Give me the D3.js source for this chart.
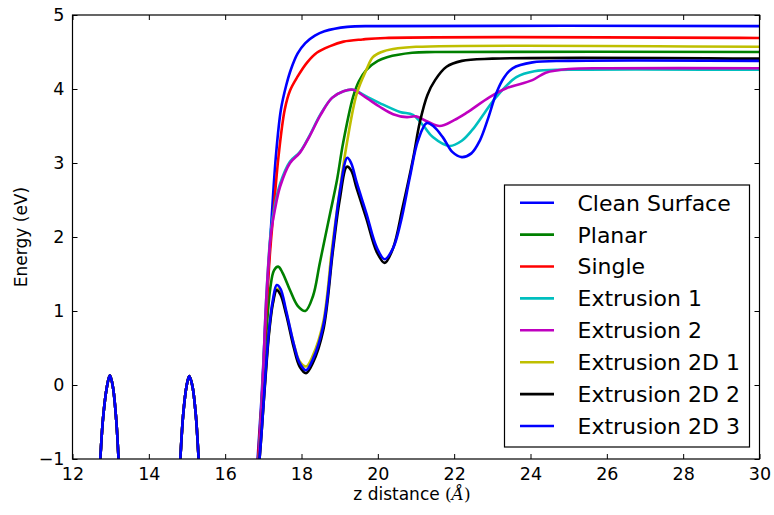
<!DOCTYPE html>
<html>
<head>
<meta charset="utf-8">
<script src="https://cdn.jsdelivr.net/npm/d3@7"></script>
<style>
  html, body { margin: 0; padding: 0; background: #fff; }
  svg { display: block; }
  text { font-family: "DejaVu Sans", sans-serif; fill: #000; }
</style>
</head>
<body>
<svg id="chart" width="774" height="515"></svg>
<script>
// Energy profile along z for each surface model: [z (Å), E (eV)] pairs.

// Part of the profile shared by all models (below 16.85 Å).
const approach = [
  [12.0, -2.6], [12.55, -2.0], [12.70, -1.2], [12.80, -0.45], [12.90, -0.03], [12.98, 0.13],
  [13.06, -0.03], [13.15, -0.5], [13.23, -1.2], [13.35, -2.0], [14.0, -2.6], [14.68, -2.0],
  [14.80, -1.2], [14.90, -0.4], [14.99, -0.01], [15.06, 0.12], [15.14, -0.01], [15.23, -0.4],
  [15.33, -1.2], [15.45, -2.0], [16.1, -2.6], [16.72, -2.0], [16.80, -1.5]
];

const cleanSurface = [
  [16.85, -1.0], [16.95, -0.2], [17.05, 0.8], [17.15, 1.7], [17.23, 2.36], [17.33, 3.1],
  [17.46, 3.72], [17.6, 4.05], [17.72, 4.26], [17.9, 4.48], [18.1, 4.62], [18.35, 4.72],
  [18.6, 4.78], [19.2, 4.84], [20.0, 4.85], [30.0, 4.85]
];

const planar = [
  [16.88, -1.0], [16.98, -0.2], [17.08, 0.7], [17.18, 1.3], [17.28, 1.55], [17.39, 1.6],
  [17.5, 1.52], [17.7, 1.28], [17.9, 1.07], [18.1, 1.0], [18.3, 1.2], [18.48, 1.65],
  [18.75, 2.32], [18.93, 2.77], [19.09, 3.27], [19.35, 3.89], [19.5, 4.1], [19.7, 4.26],
  [20.0, 4.38], [20.24, 4.43], [20.9, 4.49], [21.5, 4.5], [30.0, 4.5]
];

const single = [
  [16.86, -1.0], [16.96, -0.2], [17.06, 0.8], [17.17, 1.75], [17.27, 2.36], [17.4, 3.1],
  [17.56, 3.72], [17.7, 3.98], [17.9, 4.17], [18.15, 4.36], [18.4, 4.49], [18.75, 4.58],
  [19.1, 4.64], [19.6, 4.67], [20.2, 4.69], [30.0, 4.69]
];

const extrusion1 = [
  [16.88, -1.0], [16.98, 0.0], [17.08, 1.2], [17.2, 2.1], [17.3, 2.42], [17.44, 2.72],
  [17.7, 3.02], [17.96, 3.15], [18.2, 3.36], [18.5, 3.66], [18.8, 3.88], [19.1, 3.97],
  [19.35, 3.99], [19.7, 3.9], [20.05, 3.81], [20.58, 3.69], [20.92, 3.65], [21.2, 3.5],
  [21.44, 3.35], [21.88, 3.23], [22.2, 3.3], [22.48, 3.45], [22.8, 3.68], [23.1, 3.89],
  [23.63, 4.16], [24.1, 4.24], [25.0, 4.26], [30.0, 4.26]
];

const extrusion2 = [
  [16.88, -1.0], [16.98, 0.0], [17.08, 1.2], [17.2, 2.05], [17.3, 2.36], [17.44, 2.68],
  [17.7, 3.0], [17.96, 3.14], [18.2, 3.35], [18.5, 3.65], [18.8, 3.88], [19.1, 3.97],
  [19.35, 3.99], [19.7, 3.88], [20.05, 3.76], [20.4, 3.66], [20.76, 3.62], [21.0, 3.63],
  [21.3, 3.56], [21.62, 3.5], [22.0, 3.58], [22.33, 3.68], [22.93, 3.89], [23.37, 4.01],
  [24.05, 4.12], [24.4, 4.22], [25.0, 4.27], [26.0, 4.28], [30.0, 4.28]
];

const extrusion2D1 = [
  [16.9, -1.0], [17.0, -0.3], [17.05, 0.08], [17.15, 0.72], [17.25, 1.12], [17.35, 1.3],
  [17.45, 1.25], [17.6, 0.98], [17.8, 0.55], [17.95, 0.32], [18.12, 0.25], [18.3, 0.4],
  [18.57, 0.85], [18.8, 1.85], [18.93, 2.36], [19.19, 3.27], [19.45, 3.94], [19.7, 4.26],
  [19.87, 4.43], [20.1, 4.5], [20.4, 4.54], [21.0, 4.57], [30.0, 4.57]
];

const extrusion2D2 = [
  [16.9, -1.0], [17.0, -0.3], [17.05, 0.05], [17.15, 0.7], [17.25, 1.1], [17.35, 1.28],
  [17.45, 1.22], [17.6, 0.95], [17.8, 0.5], [17.95, 0.25], [18.12, 0.16], [18.3, 0.3],
  [18.57, 0.74], [18.82, 1.8], [19.0, 2.5], [19.19, 2.95], [19.3, 2.9], [19.45, 2.65],
  [19.7, 2.25], [19.97, 1.8], [20.18, 1.65], [20.4, 1.85], [20.65, 2.4], [20.92, 3.05],
  [21.1, 3.55], [21.3, 3.92], [21.5, 4.12], [21.8, 4.3], [22.2, 4.38], [23.0, 4.41], [30.0, 4.41]
];

const extrusion2D3 = [
  [16.9, -1.0], [17.0, -0.3], [17.05, 0.1], [17.15, 0.75], [17.25, 1.15], [17.35, 1.35],
  [17.45, 1.3], [17.6, 1.0], [17.8, 0.55], [17.95, 0.3], [18.12, 0.2], [18.3, 0.35],
  [18.57, 0.8], [18.82, 1.86], [19.0, 2.6], [19.2, 3.07], [19.3, 3.0], [19.45, 2.73],
  [19.7, 2.32], [19.97, 1.86], [20.18, 1.7], [20.4, 1.85], [20.6, 2.2], [20.84, 2.81],
  [21.05, 3.3], [21.28, 3.54], [21.45, 3.5], [21.7, 3.35], [21.95, 3.15], [22.2, 3.08],
  [22.45, 3.13], [22.67, 3.3], [22.9, 3.62], [23.1, 3.94], [23.3, 4.15], [23.53, 4.28],
  [24.05, 4.36], [25.0, 4.38], [30.0, 4.38]
];

const seriesNames = ["Clean Surface", "Planar", "Single", "Extrusion 1", "Extrusion 2",
  "Extrusion 2D 1", "Extrusion 2D 2", "Extrusion 2D 3"];
const seriesValues = [cleanSurface, planar, single, extrusion1, extrusion2,
  extrusion2D1, extrusion2D2, extrusion2D3];
const seriesColors = ["#0000ff", "#008000", "#ff0000", "#00bfbf", "#bf00bf",
  "#bfbf00", "#000000", "#0000ff"];

const xTicks = [12, 14, 16, 18, 20, 22, 24, 26, 28, 30];
const yTicks = [-1, 0, 1, 2, 3, 4, 5];

// Layout
const svg = d3.select("#chart");
const plot = { left: 72.5, right: 759.5, top: 15, bottom: 459 };

const x = d3.scaleLinear().domain([12, 30]).range([plot.left, plot.right]);
const y = d3.scaleLinear().domain([-1, 5]).range([plot.bottom, plot.top]);

svg.append("defs").append("clipPath").attr("id", "plot-clip")
  .append("rect")
  .attr("x", plot.left).attr("y", plot.top)
  .attr("width", plot.right - plot.left).attr("height", plot.bottom - plot.top);

const line = d3.line()
  .x(d => x(d[0]))
  .y(d => y(d[1]))
  .curve(d3.curveCatmullRom.alpha(0.5));

const curves = svg.append("g").attr("clip-path", "url(#plot-clip)");
seriesValues.forEach((vals, i) => {
  curves.append("path")
    .datum(approach.concat(vals))
    .attr("fill", "none")
    .attr("stroke", seriesColors[i])
    .attr("stroke-width", 2.6)
    .attr("stroke-linejoin", "round")
    .attr("d", line);
});

// Axes with inward ticks on all four sides
const tickLen = 5;
const axisFont = 17.5;

const bottomAxis = d3.axisBottom(x).tickValues(xTicks).tickFormat(d3.format("d"))
  .tickSizeInner(-tickLen).tickSizeOuter(0).tickPadding(9);
const topAxis = d3.axisTop(x).tickValues(xTicks).tickFormat("")
  .tickSizeInner(-tickLen).tickSizeOuter(0);
const leftAxis = d3.axisLeft(y).tickValues(yTicks)
  .tickFormat(d => d < 0 ? "\u2212" + Math.abs(d) : d)
  .tickSizeInner(-tickLen).tickSizeOuter(0).tickPadding(8);
const rightAxis = d3.axisRight(y).tickValues(yTicks).tickFormat("")
  .tickSizeInner(-tickLen).tickSizeOuter(0);

function styleAxis(g) {
  g.select(".domain").remove();
  g.selectAll(".tick line").attr("stroke", "#000").attr("stroke-width", 1);
  g.selectAll(".tick text")
    .attr("font-family", "DejaVu Sans, sans-serif")
    .attr("font-size", axisFont)
    .attr("fill", "#000");
}

svg.append("g").attr("transform", `translate(0,${plot.bottom})`).call(bottomAxis).call(styleAxis);
svg.append("g").attr("transform", `translate(0,${plot.top})`).call(topAxis).call(styleAxis);
svg.append("g").attr("transform", `translate(${plot.left},0)`).call(leftAxis).call(styleAxis);
svg.append("g").attr("transform", `translate(${plot.right},0)`).call(rightAxis).call(styleAxis);

// Frame
svg.append("rect")
  .attr("x", plot.left).attr("y", plot.top)
  .attr("width", plot.right - plot.left).attr("height", plot.bottom - plot.top)
  .attr("fill", "none").attr("stroke", "#000").attr("stroke-width", 1.2);

// Axis labels
const xLabel = svg.append("text")
  .attr("x", (plot.left + plot.right) / 2 - 4).attr("y", 500)
  .attr("text-anchor", "middle")
  .attr("font-size", 17);
xLabel.append("tspan").text("z distance ");
xLabel.append("tspan").attr("font-family", "DejaVu Serif, serif").attr("font-size", 17).text("(");
xLabel.append("tspan").attr("font-family", "DejaVu Serif, serif").attr("font-style", "italic").attr("font-size", 17).text("\u00C5");
xLabel.append("tspan").attr("font-family", "DejaVu Serif, serif").attr("font-size", 17).text(")");

svg.append("text")
  .attr("transform", `translate(27,${(plot.top + plot.bottom) / 2}) rotate(-90)`)
  .attr("text-anchor", "middle")
  .attr("font-size", 17)
  .text("Energy (eV)");

// Legend
const legend = { left: 504.5, top: 185, width: 245, height: 262, rowStart: 202.7, rowStep: 31.9 };
const lg = svg.append("g");
lg.append("rect")
  .attr("x", legend.left).attr("y", legend.top)
  .attr("width", legend.width).attr("height", legend.height)
  .attr("fill", "#fff").attr("stroke", "#000").attr("stroke-width", 1.2);

seriesNames.forEach((name, i) => {
  const cy = legend.rowStart + i * legend.rowStep;
  lg.append("line")
    .attr("x1", 520).attr("x2", 554)
    .attr("y1", cy).attr("y2", cy)
    .attr("stroke", seriesColors[i]).attr("stroke-width", 2.6);
  lg.append("text")
    .attr("x", 577.5).attr("y", cy)
    .attr("dy", "0.36em")
    .attr("font-size", 22)
    .text(name);
});
</script>
</body>
</html>
